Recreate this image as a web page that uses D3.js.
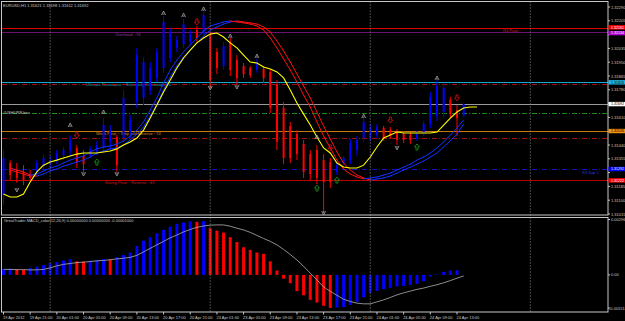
<!DOCTYPE html>
<html>
<head>
<meta charset="utf-8">
<script src="https://cdn.jsdelivr.net/npm/d3@7"></script>
<style>
  html, body { margin: 0; padding: 0; background: #000; }
  svg { display: block; }
  text { font-family: "Liberation Sans", Arial, sans-serif; font-size: 4px; }
</style>
</head>
<body>
<div id="chart"></div>
<script>
'use strict';

// header texts
const symbolTitle = 'EURUSD,H1  1.31621 1.31698 1.31612 1.31692';
const macdTitle = 'GreatTrader MACD_color(12,26,9) 0.00000000 0.00000000 -0.00001000';

// time axis, one label every 4 bars
const timeLabels = ['19 Apr 2012', '19 Apr 21:00', '20 Apr 01:00', '20 Apr 05:00', '20 Apr 09:00',
  '20 Apr 13:00', '20 Apr 17:00', '20 Apr 21:00', '23 Apr 01:00', '23 Apr 05:00', '23 Apr 09:00',
  '23 Apr 13:00', '23 Apr 17:00', '23 Apr 21:00', '24 Apr 01:00', '24 Apr 05:00', '24 Apr 09:00',
  '24 Apr 13:00'];
// first bar of each day (period separators)
const dayStarts = [7, 31, 55, 79];

const priceTicks = [1.32290, 1.32205, 1.32120, 1.32035, 1.31950, 1.31865, 1.31780, 1.31695,
  1.31610, 1.31525, 1.31440, 1.31355, 1.31270, 1.31185, 1.31100, 1.31015];
const macdTicks = [0.00296, 0, -0.00151];

// H1 bars
const opens = [1.31132, 1.31329, 1.31286, 1.31274, 1.31261, 1.31274, 1.31310, 1.31322, 1.31347, 1.31378,
  1.31403, 1.31422, 1.31372, 1.31372, 1.31397, 1.31422, 1.31459, 1.31489, 1.31483, 1.31520,
  1.31705, 1.31730, 1.31779, 1.31853, 1.31914, 1.31976, 1.32038, 1.32062, 1.32075, 1.32148,
  1.32123, 1.32117, 1.32013, 1.31926, 1.32075, 1.31963, 1.31926, 1.31914, 1.31902, 1.31908,
  1.31890, 1.31815, 1.31668, 1.31557, 1.31507, 1.31446, 1.31384, 1.31409, 1.31347, 1.31335,
  1.31274, 1.31329, 1.31347, 1.31409, 1.31483, 1.31489, 1.31501, 1.31545, 1.31532, 1.31520,
  1.31507, 1.31501, 1.31477, 1.31514, 1.31569, 1.31618, 1.31643, 1.31717, 1.31655, 1.31621];
const highs = [1.31409, 1.31347, 1.31329, 1.31316, 1.31286, 1.31347, 1.31378, 1.31372, 1.31409, 1.31428,
  1.31501, 1.31440, 1.31409, 1.31434, 1.31465, 1.31606, 1.31563, 1.31501, 1.31779, 1.31624,
  1.32038, 1.31982, 1.31951, 1.32038, 1.32234, 1.32161, 1.32111, 1.32216, 1.32148, 1.32173,
  1.32271, 1.32136, 1.32038, 1.32075, 1.32099, 1.31994, 1.31945, 1.31926, 1.31970, 1.31926,
  1.31908, 1.31840, 1.31705, 1.31582, 1.31532, 1.31471, 1.31409, 1.31440, 1.31384, 1.31360,
  1.31335, 1.31372, 1.31477, 1.31495, 1.31606, 1.31569, 1.31569, 1.31557, 1.31551, 1.31539,
  1.31526, 1.31520, 1.31526, 1.31588, 1.31767, 1.31840, 1.31822, 1.31736, 1.31686, 1.31698];
const lows = [1.31070, 1.31224, 1.31206, 1.31193, 1.31224, 1.31261, 1.31286, 1.31298, 1.31322, 1.31347,
  1.31372, 1.31298, 1.31274, 1.31360, 1.31378, 1.31397, 1.31409, 1.31274, 1.31459, 1.31483,
  1.31668, 1.31686, 1.31748, 1.31828, 1.31884, 1.31951, 1.32013, 1.32038, 1.32056, 1.32075,
  1.32099, 1.31791, 1.31877, 1.31902, 1.31865, 1.31809, 1.31853, 1.31853, 1.31884, 1.31822,
  1.31637, 1.31409, 1.31322, 1.31329, 1.31347, 1.31237, 1.31224, 1.31199, 1.31021, 1.31175,
  1.31255, 1.31316, 1.31322, 1.31372, 1.31459, 1.31465, 1.31483, 1.31465, 1.31477, 1.31440,
  1.31453, 1.31446, 1.31465, 1.31495, 1.31545, 1.31588, 1.31606, 1.31606, 1.31495, 1.31612];
const closes = [1.31360, 1.31255, 1.31237, 1.31224, 1.31237, 1.31329, 1.31360, 1.31347, 1.31391, 1.31409,
  1.31471, 1.31335, 1.31322, 1.31416, 1.31440, 1.31563, 1.31532, 1.31316, 1.31730, 1.31594,
  1.31994, 1.31951, 1.31914, 1.32013, 1.32198, 1.32136, 1.32087, 1.32185, 1.32123, 1.32099,
  1.32240, 1.31840, 1.31914, 1.32050, 1.31902, 1.31853, 1.31877, 1.31871, 1.31951, 1.31853,
  1.31668, 1.31459, 1.31360, 1.31360, 1.31384, 1.31274, 1.31261, 1.31237, 1.31212, 1.31212,
  1.31316, 1.31360, 1.31453, 1.31471, 1.31582, 1.31545, 1.31551, 1.31483, 1.31495, 1.31471,
  1.31471, 1.31471, 1.31507, 1.31569, 1.31736, 1.31803, 1.31791, 1.31630, 1.31606, 1.31692];

// yellow moving average (shifted 2 bars to the right)
const maLine = [1.31138, 1.31120, 1.31120, 1.31138, 1.31212, 1.31274, 1.31316, 1.31335, 1.31347, 1.31360,
  1.31372, 1.31384, 1.31391, 1.31391, 1.31391, 1.31397, 1.31403, 1.31416, 1.31440, 1.31459,
  1.31483, 1.31532, 1.31606, 1.31686, 1.31767, 1.31840, 1.31914, 1.31976, 1.32025, 1.32069,
  1.32099, 1.32123, 1.32130, 1.32105, 1.32069, 1.32038, 1.31994, 1.31951, 1.31945, 1.31920,
  1.31908, 1.31890, 1.31853, 1.31779, 1.31699, 1.31630, 1.31563, 1.31489, 1.31422, 1.31391,
  1.31329, 1.31304, 1.31298, 1.31298, 1.31316, 1.31366, 1.31428, 1.31483, 1.31501, 1.31520,
  1.31514, 1.31514, 1.31514, 1.31514, 1.31514, 1.31520, 1.31563, 1.31606, 1.31643, 1.31668,
  1.31674, 1.31674];

// two-line trend channel (fast and slow), starts at bar 1
const chanFast = [null, 1.31298, 1.31286, 1.31274, 1.31255, 1.31261, 1.31280, 1.31298, 1.31310, 1.31329,
  1.31347, 1.31360, 1.31372, 1.31397, 1.31416, 1.31428, 1.31434, 1.31446, 1.31465, 1.31495,
  1.31532, 1.31582, 1.31655, 1.31730, 1.31822, 1.31902, 1.31963, 1.32013, 1.32056, 1.32099,
  1.32142, 1.32173, 1.32185, 1.32198, 1.32204, 1.32198, 1.32192, 1.32185, 1.32173, 1.32148,
  1.32099, 1.32038, 1.31970, 1.31902, 1.31828, 1.31748, 1.31674, 1.31582, 1.31495, 1.31422,
  1.31347, 1.31292, 1.31261, 1.31243, 1.31231, 1.31237, 1.31243, 1.31255, 1.31267, 1.31286,
  1.31304, 1.31322, 1.31347, 1.31366, 1.31391, 1.31422, 1.31459, 1.31501, 1.31545, 1.31594];
const chanSlow = [null, 1.31286, 1.31274, 1.31261, 1.31249, 1.31249, 1.31261, 1.31280, 1.31292, 1.31310,
  1.31322, 1.31335, 1.31347, 1.31366, 1.31391, 1.31403, 1.31416, 1.31422, 1.31440, 1.31471,
  1.31507, 1.31551, 1.31618, 1.31692, 1.31779, 1.31859, 1.31926, 1.31982, 1.32025, 1.32069,
  1.32111, 1.32148, 1.32167, 1.32185, 1.32198, 1.32204, 1.32198, 1.32192, 1.32185, 1.32167,
  1.32136, 1.32081, 1.32019, 1.31951, 1.31877, 1.31803, 1.31730, 1.31643, 1.31557, 1.31477,
  1.31397, 1.31329, 1.31286, 1.31255, 1.31237, 1.31224, 1.31231, 1.31237, 1.31249, 1.31267,
  1.31286, 1.31304, 1.31322, 1.31341, 1.31366, 1.31391, 1.31428, 1.31465, 1.31507, 1.31569];

// fractal and signal arrows: [bar, price]
const upFractals = [[10, 1.31563], [15, 1.31643], [24, 1.32253], [27, 1.32240], [30, 1.32278],
  [34, 1.32111], [38, 1.31988], [47, 1.31489], [54, 1.31618], [65, 1.31853]];
const downFractals = [[2, 1.31163], [12, 1.31261], [17, 1.31261], [31, 1.31791], [35, 1.31797],
  [48, 1.31021], [59, 1.31422]];
const sellArrows = [[11, 1.31501], [29, 1.32198], [49, 1.31422], [58, 1.31594], [68, 1.31730]];
const buyArrows = [[14, 1.31335], [47, 1.31175], [50, 1.31224], [62, 1.31428]];

// horizontal levels
const levelPrices = [1.32161, 1.32134, 1.31826, 1.31814, 1.31637, 1.31526, 1.31481, 1.31292, 1.31222];
const levelNames = ['R4 Pivot', 'Overhead ~74', 'Ultimate Resistance ~ Extremely Overbought 70', '',
  '#USHURB.bov', 'Weak Pivot ~ Stop and Reverse ~74', '', 'R4 Sup C', 'Strong Pivot ~ Reverse ~43'];

// MACD histogram (bars 0..68) and signal (bars 0..69)
const macdHist = [0.00026, 0.00029, 0.00026, 0.00023, 0.00032, 0.00038, 0.00044, 0.00053, 0.00059, 0.00065,
  0.00072, 0.00062, 0.00061, 0.00065, 0.00068, 0.00072, 0.00070, 0.00081, 0.00090, 0.00102,
  0.00132, 0.00156, 0.00172, 0.00190, 0.00205, 0.00220, 0.00233, 0.00239, 0.00244, 0.00242,
  0.00245, 0.00213, 0.00202, 0.00193, 0.00172, 0.00150, 0.00126, 0.00114, 0.00102, 0.00096,
  0.00062, 0.00020, -0.00017, -0.00038, -0.00074, -0.00093, -0.00114, -0.00126, -0.00141, -0.00151,
  -0.00149, -0.00147, -0.00137, -0.00123, -0.00102, -0.00083, -0.00073, -0.00065, -0.00059, -0.00053,
  -0.00050, -0.00046, -0.00041, -0.00029, -0.00008, 0.00002, 0.00014, 0.00020, 0.00021];
const macdSignal = [0.00025, 0.00025, 0.00024, 0.00024, 0.00023, 0.00023, 0.00025, 0.00032, 0.00041, 0.00048,
  0.00052, 0.00056, 0.00058, 0.00061, 0.00064, 0.00066, 0.00069, 0.00073, 0.00076, 0.00080,
  0.00089, 0.00105, 0.00121, 0.00137, 0.00153, 0.00169, 0.00182, 0.00196, 0.00207, 0.00217,
  0.00223, 0.00227, 0.00228, 0.00228, 0.00222, 0.00213, 0.00205, 0.00194, 0.00180, 0.00166,
  0.00153, 0.00137, 0.00116, 0.00093, 0.00068, 0.00039, 0.00008, -0.00023, -0.00055, -0.00075,
  -0.00093, -0.00111, -0.00121, -0.00129, -0.00132, -0.00132, -0.00123, -0.00114, -0.00103, -0.00091,
  -0.00082, -0.00074, -0.00066, -0.00060, -0.00052, -0.00045, -0.00036, -0.00026, -0.00015, -0.00005];


const width = 625;
const height = 321;
const axisX = 608;
const mainTop = 1.5, mainBottom = 215;
const macdTop = 217.5, macdBottom = 312;

const BLUE = '#0000ff';
const RED = '#ff0000';
const GREY = '#c8c8c8';

// line look for each level, same order as levelPrices
const levelStyle = [
  {color: '#e00000', w: 1, dash: null, labelX: 503, dy: 3.7, text: '#d01818', box: '#ff0000', boxText: '#fff', boxDy: -0.6},
  {color: '#6a1470', w: 1, dash: null, labelX: 115, dy: 3.3, text: '#9a3c9a', box: '#b000d0', boxText: '#fff', boxDy: 0.8},
  {color: '#1aa6d2', w: 1.2, dash: null, labelX: 86, dy: 3.7, text: '#2aa8d0', box: '#20b8e8', boxText: '#000', boxDy: 0},
  {color: '#a01010', w: 1, dash: '5,2,1,2'},
  {color: '#1c8a1c', w: 1, dash: '5,2,1,2', labelX: 3, dy: 0.3, text: GREY},
  {color: '#c8780c', w: 1.2, dash: null, labelX: 96, dy: 3.5, text: '#d88a20', box: '#f09010', boxText: '#000', boxDy: 0},
  {color: '#a01010', w: 1, dash: '5,2,1,2'},
  {color: '#1414b4', w: 1, dash: '5,2,1,2', labelX: 582, dy: 4, text: '#2a3ad8', box: '#0000ff', boxText: '#fff', boxDy: 0},
  {color: '#c00000', w: 1.2, dash: null, labelX: 105, dy: 3.3, text: '#d01818', box: '#ff0000', boxText: '#fff', boxDy: 0}
];

const svg = d3.select('#chart').append('svg')
  .attr('width', width)
  .attr('height', height)
  .style('background', '#000');

// scales
const x = d3.scaleLinear().domain([0, 68]).range([3.5, 457]);
const y = d3.scaleLinear().domain([1.31015, 1.32290]).range([214, 7]);
const yM = d3.scaleLinear().domain([-0.00151, 0.00296]).range([308, 210]);

const defs = svg.append('defs');
defs.append('clipPath').attr('id', 'clipMain')
  .append('rect').attr('x', 2).attr('y', mainTop).attr('width', axisX - 2).attr('height', mainBottom - mainTop);
defs.append('clipPath').attr('id', 'clipMacd')
  .append('rect').attr('x', 2).attr('y', macdTop).attr('width', axisX - 2).attr('height', macdBottom - macdTop);

const mainG = svg.append('g').attr('clip-path', 'url(#clipMain)');
const macdG = svg.append('g').attr('clip-path', 'url(#clipMacd)');

// period separators
svg.append('g').selectAll('line').data(dayStarts).join('line')
  .attr('x1', d => x(d)).attr('x2', d => x(d))
  .attr('y1', mainTop).attr('y2', macdBottom)
  .attr('stroke', '#8c8c8c').attr('stroke-width', 1)
  .attr('stroke-dasharray', '1,2');

// horizontal levels
levelPrices.forEach((p, k) => {
  const st = levelStyle[k];
  const yy = Math.round(y(p)) + 0.5;
  mainG.append('line')
    .attr('x1', 2).attr('x2', axisX)
    .attr('y1', yy).attr('y2', yy)
    .attr('stroke', st.color)
    .attr('stroke-width', st.w)
    .attr('stroke-dasharray', st.dash);
  if (levelNames[k]) {
    mainG.append('text')
      .attr('x', st.labelX).attr('y', yy + st.dy)
      .attr('fill', st.text)
      .text(levelNames[k]);
  }
});

// bid line
const bid = closes[closes.length - 1];
mainG.append('line')
  .attr('x1', 2).attr('x2', axisX)
  .attr('y1', Math.round(y(bid)) + 0.5).attr('y2', Math.round(y(bid)) + 0.5)
  .attr('stroke', '#9a9a9a').attr('stroke-width', 1);

// candles
const bars = d3.range(opens.length);
const candle = mainG.append('g').selectAll('g').data(bars).join('g');
candle.append('line')
  .attr('x1', i => x(i)).attr('x2', i => x(i))
  .attr('y1', i => y(highs[i])).attr('y2', i => y(lows[i]))
  .attr('stroke', i => closes[i] >= opens[i] ? BLUE : RED)
  .attr('stroke-width', 1);
candle.append('rect')
  .attr('x', i => x(i) - 1)
  .attr('width', 2)
  .attr('y', i => y(Math.max(opens[i], closes[i])))
  .attr('height', i => Math.max(1, Math.abs(y(opens[i]) - y(closes[i]))))
  .attr('fill', i => closes[i] >= opens[i] ? BLUE : RED);

// channel lines, blue while rising, red while falling
function drawChannel(arr) {
  const segs = [];
  for (let i = 0; i < arr.length - 1; i++) {
    if (arr[i] == null || arr[i + 1] == null) continue;
    segs.push({i: i, a: arr[i], b: arr[i + 1]});
  }
  mainG.append('g').selectAll('line').data(segs).join('line')
    .attr('x1', d => x(d.i)).attr('x2', d => x(d.i + 1))
    .attr('y1', d => y(d.a)).attr('y2', d => y(d.b))
    .attr('stroke', d => d.b > d.a ? '#1030ff' : '#ff1010')
    .attr('stroke-width', 1)
    .attr('stroke-linecap', 'round');
}
drawChannel(chanSlow);
drawChannel(chanFast);

// yellow MA
mainG.append('path')
  .datum(maLine)
  .attr('fill', 'none')
  .attr('stroke', '#ffff00')
  .attr('stroke-width', 1.1)
  .attr('d', d3.line().x((d, i) => x(i)).y(d => y(d)));

// markers
mainG.append('g').selectAll('path').data(upFractals).join('path')
  .attr('transform', d => `translate(${x(d[0])},${y(d[1])})`)
  .attr('d', 'M-2,2 L0,-2 L2,2 M-1,1 L1,1')
  .attr('fill', 'none').attr('stroke', '#a8a8a8').attr('stroke-width', 0.8);
mainG.append('g').selectAll('path').data(downFractals).join('path')
  .attr('transform', d => `translate(${x(d[0])},${y(d[1])})`)
  .attr('d', 'M-2,-2 L0,2 L2,-2 M-1,-1 L1,-1')
  .attr('fill', 'none').attr('stroke', '#a8a8a8').attr('stroke-width', 0.8);
mainG.append('g').selectAll('path').data(sellArrows).join('path')
  .attr('transform', d => `translate(${x(d[0])},${y(d[1])})`)
  .attr('d', 'M-1,-3 L1,-3 L1,0 L2.5,0 L0,3 L-2.5,0 L-1,0 Z')
  .attr('fill', 'none').attr('stroke', '#e01010').attr('stroke-width', 0.8);
mainG.append('g').selectAll('path').data(buyArrows).join('path')
  .attr('transform', d => `translate(${x(d[0])},${y(d[1])})`)
  .attr('d', 'M-1,3 L1,3 L1,0 L2.5,0 L0,-3 L-2.5,0 L-1,0 Z')
  .attr('fill', 'none').attr('stroke', '#18a018').attr('stroke-width', 0.8);

// MACD histogram
const histBars = d3.range(macdHist.length);
macdG.append('g').selectAll('rect').data(histBars).join('rect')
  .attr('x', i => x(i) - 1.5)
  .attr('width', 3)
  .attr('y', i => Math.min(yM(0), yM(macdHist[i])))
  .attr('height', i => Math.abs(yM(macdHist[i]) - yM(0)))
  .attr('fill', i => (i === 0 || macdHist[i] > macdHist[i - 1]) ? BLUE : RED);

macdG.append('path')
  .datum(macdSignal)
  .attr('fill', 'none')
  .attr('stroke', '#b0b0b0')
  .attr('stroke-width', 0.8)
  .attr('d', d3.line().x((d, i) => x(i)).y(d => yM(d)));

// frames
svg.append('rect')
  .attr('x', 1.5).attr('y', mainTop).attr('width', axisX - 1.5).attr('height', mainBottom - mainTop)
  .attr('fill', 'none').attr('stroke', GREY).attr('stroke-width', 1);
svg.append('rect')
  .attr('x', 1.5).attr('y', macdTop).attr('width', axisX - 1.5).attr('height', macdBottom - macdTop)
  .attr('fill', 'none').attr('stroke', GREY).attr('stroke-width', 1);

// price boxes sit on top of the axis labels, so labels under a box are hidden
const boxYs = levelPrices
  .map((p, k) => levelStyle[k].box ? y(p) + levelStyle[k].boxDy : null)
  .filter(v => v != null)
  .concat([y(closes[closes.length - 1])]);
const visibleTicks = priceTicks.filter(t => boxYs.every(b => Math.abs(y(t) - b) > 3.8));

// price axis
const pAxis = svg.append('g');
pAxis.selectAll('line').data(priceTicks).join('line')
  .attr('x1', axisX).attr('x2', axisX + 2)
  .attr('y1', d => y(d)).attr('y2', d => y(d))
  .attr('stroke', GREY);
pAxis.selectAll('text').data(visibleTicks).join('text')
  .attr('x', axisX + 3).attr('y', d => y(d) + 1.5)
  .attr('fill', GREY)
  .text(d => d.toFixed(5));

// coloured price boxes on the axis
function priceBox(p, fill, txt, dy) {
  const yy = y(p) + dy;
  svg.append('rect')
    .attr('x', axisX + 0.5).attr('y', yy - 2.2)
    .attr('width', width - axisX).attr('height', 4.4)
    .attr('fill', fill);
  svg.append('text')
    .attr('x', axisX + 3).attr('y', yy + 1.3)
    .attr('fill', txt)
    .style('font-size', '3.6px')
    .text(p.toFixed(5));
}
levelPrices.forEach((p, k) => {
  const st = levelStyle[k];
  if (st.box) priceBox(p, st.box, st.boxText, st.boxDy);
});
priceBox(bid, '#ffffff', '#000', 0);

// MACD axis
const mClamp = v => Math.min(Math.max(yM(v), macdTop + 2), macdBottom - 2.5);
const mAxis = svg.append('g');
mAxis.selectAll('text').data(macdTicks).join('text')
  .attr('x', d => d < 0 ? axisX + 1 : axisX + 3)
  .attr('y', d => mClamp(d) + 1.5)
  .attr('fill', GREY)
  .text(d => d === 0 ? '0.00' : d.toFixed(5));
mAxis.selectAll('line').data(macdTicks).join('line')
  .attr('x1', axisX).attr('x2', axisX + 2)
  .attr('y1', d => mClamp(d))
  .attr('y2', d => mClamp(d))
  .attr('stroke', GREY);

// time axis
const tAxis = svg.append('g');
tAxis.selectAll('line').data(timeLabels).join('line')
  .attr('x1', (d, k) => x(k * 4)).attr('x2', (d, k) => x(k * 4))
  .attr('y1', macdBottom).attr('y2', macdBottom + 2.5)
  .attr('stroke', GREY);
tAxis.selectAll('text').data(timeLabels).join('text')
  .attr('x', (d, k) => x(k * 4) - 0.5)
  .attr('y', 318.5)
  .attr('fill', GREY)
  .text(d => d);

// titles
svg.append('text').attr('x', 3).attr('y', 6.5).attr('fill', GREY).text(symbolTitle);
svg.append('text').attr('x', 4).attr('y', 222).attr('fill', GREY).text(macdTitle);
</script>
</body>
</html>
